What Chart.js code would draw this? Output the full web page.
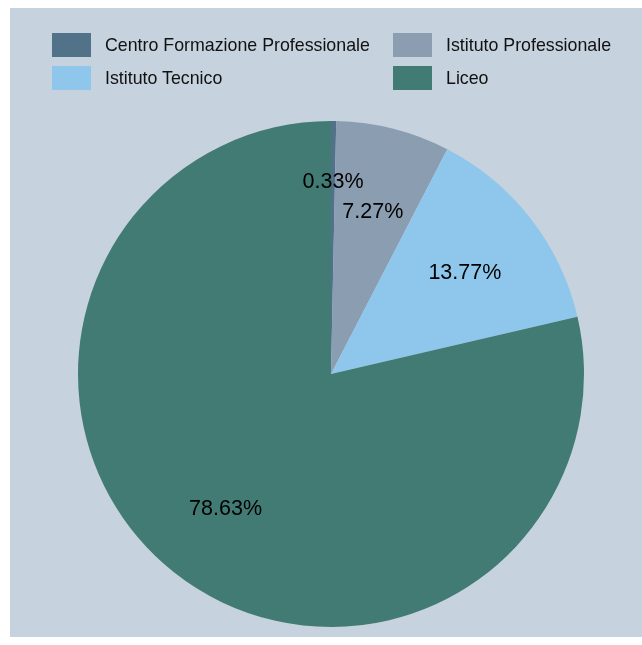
<!DOCTYPE html>
<html>
<head>
<meta charset="utf-8">
<script src="https://cdn.jsdelivr.net/npm/chart.js@4/dist/chart.umd.min.js"></script>
<style>
    html, body { margin: 0; padding: 0; background: #ffffff; }
    #panel {
        position: absolute; left: 10px; top: 8px; width: 632px; height: 629px;
        background: #c6d2dd;
    }
    #chart { position: absolute; left: 0; top: 0; }
    #legend {
        position: absolute; left: 42px; top: 25px;
        font-family: "Liberation Sans", Arial, sans-serif; font-size: 17.8px; color: #111111;
    }
    .item { position: absolute; height: 24px; display: flex; align-items: center; white-space: nowrap; }
    .box { width: 39px; height: 24px; margin-right: 14px; }
</style>
</head>
<body>
<div id="panel">
    <canvas id="chart" width="632" height="629"></canvas>
    <div id="legend"></div>
</div>
<script>
const categories = ['Centro Formazione Professionale', 'Istituto Professionale', 'Istituto Tecnico', 'Liceo'];
const shares = [0.33, 7.27, 13.77, 78.63];
const colors = ['#52728a', '#8a9db1', '#8fc7ec', '#417b73'];

// legend laid out as a 2-column grid
const legendEl = document.getElementById('legend');
categories.forEach(function(name, i) {
    const item = document.createElement('div');
    item.className = 'item';
    item.style.left = (i % 2 === 0 ? 0 : 341) + 'px';
    item.style.top = (i < 2 ? 0 : 33) + 'px';
    item.innerHTML = '<span class="box" style="background:' + colors[i] + '"></span>' + name;
    legendEl.appendChild(item);
});

// percent labels inside slices; smaller slices get pushed outward if they collide
const sliceLabels = {
    id: 'sliceLabels',
    afterDatasetsDraw(chart) {
        const ctx = chart.ctx;
        const arcs = chart.getDatasetMeta(0).data;
        const fontSize = 21.5;
        ctx.save();
        ctx.font = fontSize + 'px "Liberation Sans", Arial, sans-serif';
        ctx.fillStyle = '#000000';
        ctx.textAlign = 'center';
        ctx.textBaseline = 'alphabetic';
        const order = shares.map((v, i) => i).sort((a, b) => shares[b] - shares[a]);
        const placed = [];
        order.forEach(function(i) {
            const arc = arcs[i];
            const text = shares[i].toFixed(2) + '%';
            const w = ctx.measureText(text).width;
            const h = fontSize * 1.4;
            const mid = (arc.startAngle + arc.endAngle) / 2;
            let dist = arc.outerRadius * 0.67;
            let x, y;
            for (let k = 0; k < 200; k++) {
                x = arc.x + Math.cos(mid) * dist;
                y = arc.y + Math.sin(mid) * dist;
                const hit = placed.some(p => Math.abs(p.x - x) < (p.w + w) / 2 && Math.abs(p.y - y) < (p.h + h) / 2);
                if (!hit) break;
                dist += 1;
            }
            placed.push({x: x, y: y, w: w, h: h});
            // centre the digits (cap height) on the anchor point
            ctx.fillText(text, x, y + fontSize * 0.358 + 1);
        });
        ctx.restore();
    }
};

new Chart(document.getElementById('chart'), {
    type: 'pie',
    data: {
        labels: categories,
        datasets: [{
            data: shares,
            backgroundColor: colors,
            borderWidth: 0,
            hoverOffset: 0,
            offset: 0
        }]
    },
    options: {
        responsive: false,
        animation: false,
        layout: { padding: { left: 68, right: 58, top: 113, bottom: 10 } },
        plugins: {
            legend: { display: false },
            tooltip: { enabled: false }
        }
    },
    plugins: [sliceLabels]
});
</script>
</body>
</html>
